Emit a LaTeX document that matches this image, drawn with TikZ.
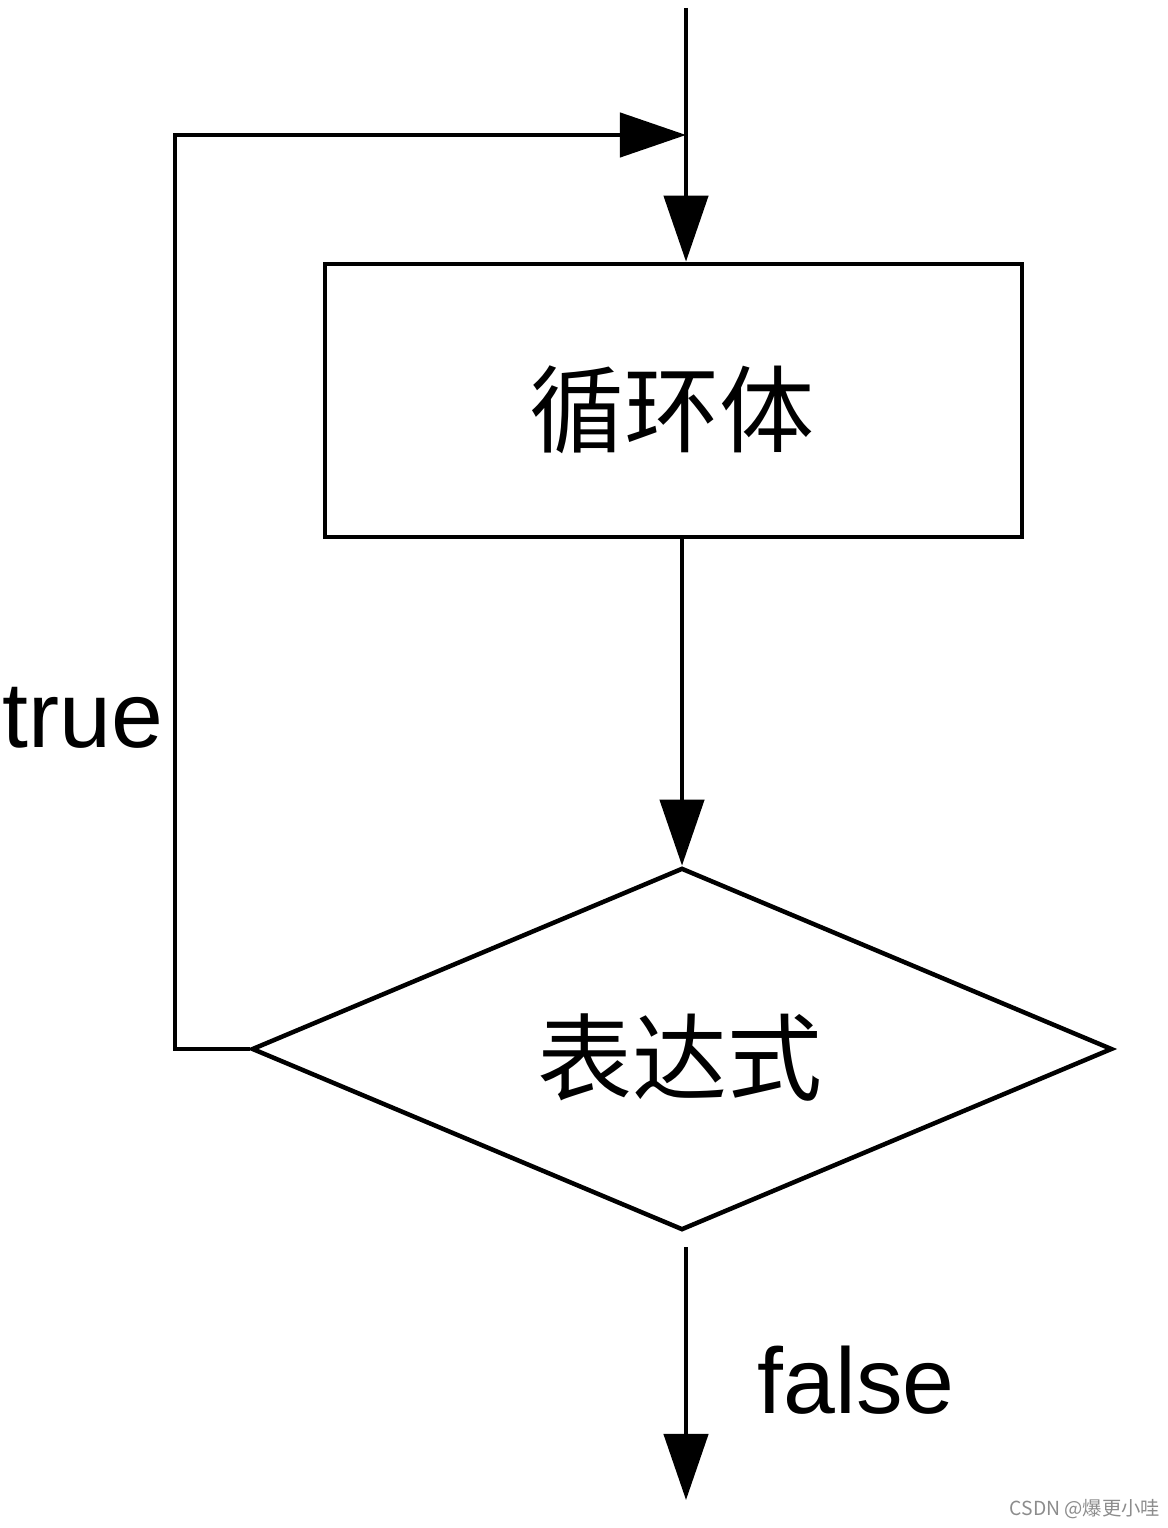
\documentclass[tikz,border=0pt]{standalone}
\usepackage{fontspec}
\setmainfont{Liberation Sans}
\newfontfamily\cjk{Noto Sans CJK SC}
\usetikzlibrary{shapes.geometric,arrows.meta}
\begin{document}
\begin{tikzpicture}[x=0.01cm,y=-0.01cm,
  line/.style={line width=0.045cm, line join=miter},
  arr/.style={line, -{Triangle[length=0.66cm,width=0.44cm]}},
  lbl/.style={font=\fontsize{26.5}{30}\selectfont, inner sep=0pt},
  cjklabel/.style={font=\cjk\fontsize{27}{32}\selectfont, inner sep=0pt}]
\useasboundingbox (0,0) rectangle (1168,1528);
\node[draw, line, minimum width=6.97cm, minimum height=2.73cm, inner sep=0pt] (body) at (673.5,400.5) {};
\node[cjklabel] (bodytxt) at (672,410) {循环体};
\node[draw, line, diamond, minimum width=8.6cm, minimum height=3.62cm, inner sep=0pt] (cond) at (682,1049) {};
\node[cjklabel] (condtxt) at (680,1058) {表达式};
\coordinate (start) at (686,8);
\coordinate (merge) at (686,135);
\coordinate (corner) at (175,1049);
\coordinate (fstart) at (686,1247);
\coordinate (fend) at (686,1500);
\draw[arr] (start) -- (start |- body.north);
\draw[arr] (cond.north |- body.south) -- (cond.north);
\draw[arr] (cond.west) -- (corner) |- (merge);
\draw[arr] (fstart) -- (fend);
\node[lbl] (truetxt) at (83,718) {true};
\node[lbl] (falsetxt) at (856,1380) {false};
\node[font=\cjk\fontsize{5.5}{7}\selectfont, text=black!45, inner sep=0pt] (wm) at (1085,1509) {CSDN @爆更小哇};
\end{tikzpicture}
\end{document}
